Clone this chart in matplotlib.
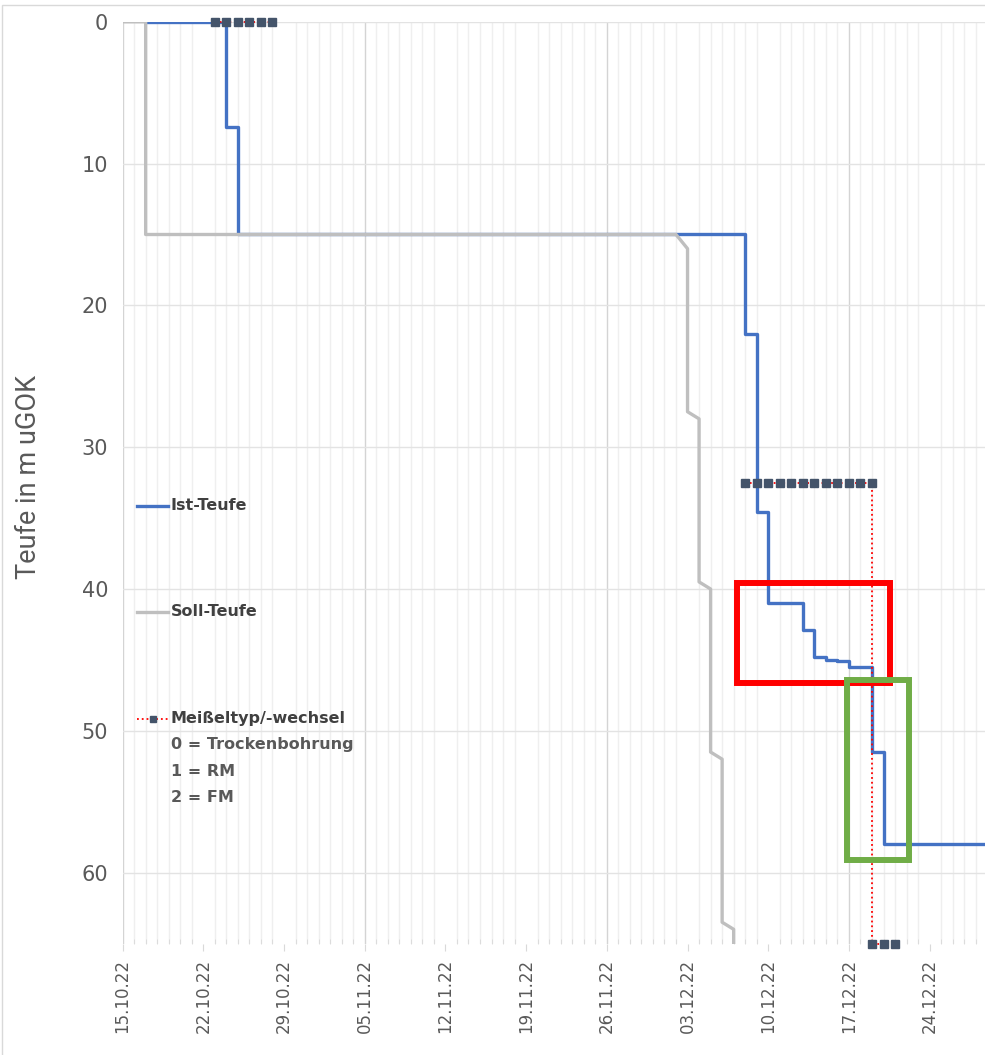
import matplotlib
matplotlib.use("Agg")
import matplotlib.pyplot as plt
import matplotlib.dates as mdates
from matplotlib.lines import Line2D
from matplotlib.ticker import FixedLocator
import numpy as np
import pandas as pd

# Ist-Teufe (Tageswerte, als Treppe gezeichnet)
ist_datum = ["17.10.22", "24.10.22", "25.10.22", "08.12.22", "09.12.22", "10.12.22",
             "13.12.22", "14.12.22", "15.12.22", "16.12.22", "17.12.22", "19.12.22",
             "20.12.22", "29.12.22"]
ist_teufe = [0, 7.4, 15, 22, 34.6, 41.0, 42.9, 44.8, 45.0, 45.1, 45.5, 51.5, 58.0, 58.0]

# Soll-Teufe (Planung)
soll_datum = ["15.10.22", "17.10.22", "17.10.22", "02.12.22", "03.12.22", "03.12.22",
              "04.12.22", "04.12.22", "05.12.22", "05.12.22", "06.12.22", "06.12.22",
              "07.12.22", "07.12.22"]
soll_teufe = [0, 0, 15, 15, 16, 27.5, 28, 39.5, 40, 51.5, 52, 63.5, 64, 75.5]

# Meisseltyp: 0 = Trockenbohrung, 1 = RM, 2 = FM (None = Luecke)
meissel_datum = ["23.10.22", "24.10.22", "25.10.22", "26.10.22", "27.10.22", "28.10.22",
                 "29.10.22",
                 "08.12.22", "09.12.22", "10.12.22", "11.12.22", "12.12.22", "13.12.22",
                 "14.12.22", "15.12.22", "16.12.22", "17.12.22", "18.12.22", "19.12.22",
                 "19.12.22", "20.12.22", "21.12.22"]
meissel_typ = [0, 0, 0, 0, 0, 0,
               None,
               1, 1, 1, 1, 1, 1, 1, 1, 1, 1, 1, 1,
               2, 2, 2]

tick_labels = ["15.10.22", "22.10.22", "29.10.22", "05.11.22", "12.11.22", "19.11.22",
               "26.11.22", "03.12.22", "10.12.22", "17.12.22", "24.12.22"]


def to_date(lst):
    return pd.to_datetime(lst, format="%d.%m.%y")


ist_x = to_date(ist_datum)
soll_x = to_date(soll_datum)
mei_x = to_date(meissel_datum)
mei_y = np.array([np.nan if v is None else v for v in meissel_typ], dtype=float)
ticks = to_date(tick_labels)
start = ticks[0]

W, H = 985, 1055
fig = plt.figure(figsize=(W / 100, H / 100), dpi=100)
left, top, bottom = 122.6, 21.8, 943.5
ax = fig.add_axes([left / W, 1 - bottom / H, 1 - left / W, (bottom - top) / H])

grey_txt = "#595959"

ax.step(ist_x, ist_teufe, where="post", color="#4472C4", lw=2.4, zorder=3)
ax.plot(soll_x, soll_teufe, color="#BFBFBF", lw=2.4, zorder=4)

ax.set_ylim(65, 0)
ax.set_xlim(mdates.date2num(start), mdates.date2num(start) + 74.8)

# Achsen / Gitter
ax.xaxis.set_major_locator(FixedLocator(mdates.date2num(ticks)))
ax.xaxis.set_major_formatter(mdates.DateFormatter("%d.%m.%y"))
days = pd.date_range(start, periods=80, freq="D")
ax.xaxis.set_minor_locator(FixedLocator(mdates.date2num(days)))
ax.set_yticks([0, 10, 20, 30, 40, 50, 60])

ax.grid(which="minor", axis="x", color="#EFEFEF", lw=1)
for d in pd.date_range(start, periods=4, freq="21D"):
    ax.axvline(d, color="#D4D4D4", lw=1, zorder=0.5)
ax.grid(which="major", axis="y", color="#E3E3E3", lw=1)
ax.set_axisbelow(True)
for s in ax.spines.values():
    s.set_visible(False)

ax.tick_params(axis="x", which="major", length=5, color="#D9D9D9", direction="out",
               pad=6, labelsize=12, labelcolor=grey_txt, labelrotation=90)
ax.tick_params(axis="x", which="minor", length=3.5, color="#D9D9D9", direction="in")
ax.tick_params(axis="y", length=0, pad=10.5, labelsize=15, labelcolor=grey_txt)

ax.set_ylabel("Teufe in m uGOK", fontsize=19.5, color=grey_txt, family="Roboto")
ax.yaxis.set_label_coords(-0.0935, 0.506)

# Meisseltyp auf zweiter (unsichtbarer) Achse 0..2
ax2 = ax.twinx()
ax2.set_ylim(2, 0)
ax2.axis("off")
ax2.plot(mei_x, mei_y, color="#FF0000", ls=":", lw=1.3, zorder=5, clip_on=False)
ax2.plot(mei_x, mei_y, ls="none", marker="s", ms=5.5, color="#44546A", zorder=6,
         clip_on=False)

# Markierungen
red_box = plt.Rectangle((mdates.date2num(start) + 53.3, 39.6), 13.3, 7.0,
                        fill=False, ec="#FF0000", lw=4.3, transform=ax.transData,
                        zorder=7)
green_box = plt.Rectangle((mdates.date2num(start) + 62.8, 46.4), 5.4, 12.7,
                          fill=False, ec="#70AD47", lw=4.3, transform=ax.transData,
                          zorder=8)
ax2.add_patch(red_box)
ax2.add_patch(green_box)


# Legende von Hand
def fx(px):
    return (px - left) / (W - left)


def fy(py):
    return (bottom - py) / (bottom - top)


leg_txt = "#404040"
h0, h1, tx = 137, 168, 171
ax2.add_line(Line2D([fx(h0), fx(h1)], [fy(506), fy(506)], color="#4472C4", lw=2.4,
                    transform=ax.transAxes))
ax2.text(fx(tx), fy(506), "Ist-Teufe", transform=ax.transAxes, va="center",
         fontsize=11.5, fontweight="bold", color=leg_txt)
ax2.add_line(Line2D([fx(h0), fx(h1)], [fy(612), fy(612)], color="#BFBFBF", lw=2.4,
                    transform=ax.transAxes))
ax2.text(fx(tx), fy(612), "Soll-Teufe", transform=ax.transAxes, va="center",
         fontsize=11.5, fontweight="bold", color=leg_txt)
ax2.add_line(Line2D([fx(h0), fx((h0 + h1) / 2), fx(h1)], [fy(719)] * 3, color="#FF0000",
                    ls=":", lw=1.3, transform=ax.transAxes))
ax2.add_line(Line2D([fx((h0 + h1) / 2)], [fy(719)], ls="none", marker="s", ms=5,
                    color="#44546A", transform=ax.transAxes))
ax2.text(fx(tx), fy(719), "Meißeltyp/-wechsel", transform=ax.transAxes, va="center",
         fontsize=11.5, fontweight="bold", color=leg_txt)
for py, s in zip([745, 772, 798], ["0 = Trockenbohrung", "1 = RM", "2 = FM"]):
    ax2.text(fx(tx), fy(py), s, transform=ax.transAxes, va="center",
             fontsize=11.5, fontweight="bold", color=grey_txt)

# Rahmen des Diagrammbereichs
fig.patches.append(plt.Rectangle((2 / W, -0.1), 1.2, 1.1 - 5 / H, fill=False,
                                 ec="#D9D9D9", lw=1, transform=fig.transFigure))

fig.savefig("out.png", dpi=100)
